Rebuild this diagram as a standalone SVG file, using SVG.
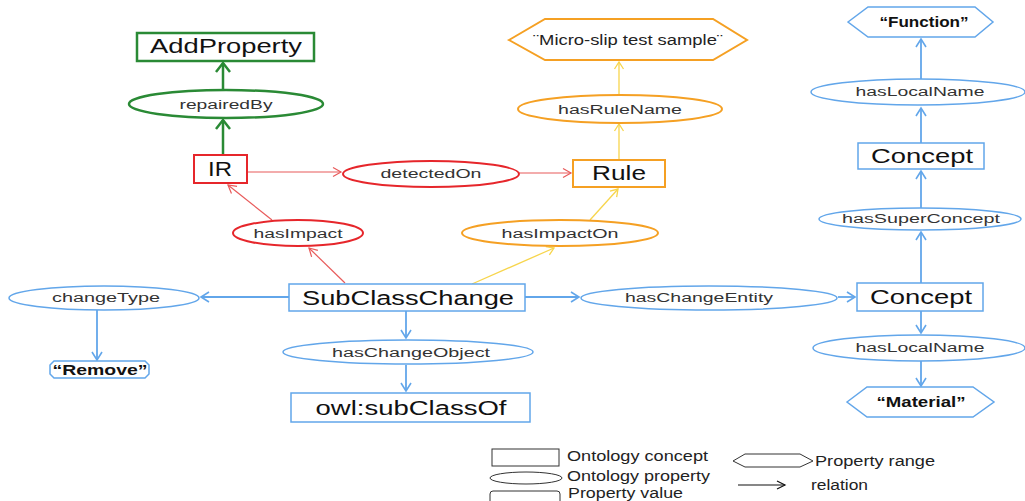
<svg xmlns="http://www.w3.org/2000/svg" width="1025" height="501" viewBox="0 0 1025 501">
<style>
text{font-family:"Liberation Sans",Arial,sans-serif;fill:#111}
.big{font-size:20px}
.sm{font-size:12.5px;fill:#333}
.bold{font-size:14px;font-weight:bold}
.leg{font-size:14px;fill:#222}
.g{stroke:#2a8a35;fill:#fff;stroke-width:2.5}
.r{stroke:#e6262b;fill:#fff;stroke-width:2}
.o{stroke:#f5a023;fill:#fff;stroke-width:2}
.b{stroke:#62a6ea;fill:#fff;stroke-width:1.5}
.k{stroke:#333;fill:#fff;stroke-width:1}
.lg{stroke:#2a8a35;stroke-width:2.5;fill:none}
.lr{stroke:#e85a5a;stroke-width:1.2;fill:none}
.ly{stroke:#f7d54c;stroke-width:1.3;fill:none}
.lb{stroke:#62a6ea;stroke-width:1.8;fill:none}
.lk{stroke:#111;stroke-width:1.2;fill:none}
</style>
<defs>
<marker id="mg" markerUnits="userSpaceOnUse" markerWidth="20" markerHeight="20" viewBox="-12 -10 14 20" refX="0" refY="0" orient="auto"><path d="M-9,-7 L0,0 L-9,7" fill="none" stroke="#2a8a35" stroke-width="2.5"/></marker>
<marker id="mr" markerUnits="userSpaceOnUse" markerWidth="20" markerHeight="20" viewBox="-12 -10 14 20" refX="0" refY="0" orient="auto"><path d="M-8,-4.5 L0,0 L-8,4.5" fill="none" stroke="#e85a5a" stroke-width="1.2"/></marker>
<marker id="my" markerUnits="userSpaceOnUse" markerWidth="20" markerHeight="20" viewBox="-12 -10 14 20" refX="0" refY="0" orient="auto"><path d="M-7,-4.5 L0,0 L-7,4.5" fill="none" stroke="#f7d54c" stroke-width="1.3"/></marker>
<marker id="mb" markerUnits="userSpaceOnUse" markerWidth="20" markerHeight="20" viewBox="-12 -10 14 20" refX="0" refY="0" orient="auto"><path d="M-8,-5 L0,0 L-8,5" fill="none" stroke="#62a6ea" stroke-width="1.6"/></marker>
<marker id="mk" markerUnits="userSpaceOnUse" markerWidth="20" markerHeight="20" viewBox="-12 -10 14 20" refX="0" refY="0" orient="auto"><path d="M-8,-4 L0,0 L-8,4" fill="none" stroke="#111" stroke-width="1.2"/></marker>
</defs>
<rect width="1025" height="501" fill="#fff"/>

<g id="connectors">
<line class="lg" x1="223" y1="90" x2="223" y2="63" marker-end="url(#mg)"/>
<line class="lg" x1="223" y1="155" x2="223" y2="120" marker-end="url(#mg)"/>
<line class="lr" x1="247" y1="172" x2="341" y2="172" marker-end="url(#mr)"/>
<line class="lr" x1="519" y1="173" x2="571" y2="173" marker-end="url(#mr)"/>
<line class="lr" x1="345" y1="283" x2="309" y2="248" marker-end="url(#mr)"/>
<line class="lr" x1="272" y1="220" x2="228" y2="185" marker-end="url(#mr)"/>
<line class="ly" x1="619" y1="159" x2="619" y2="124" marker-end="url(#my)"/>
<line class="ly" x1="619" y1="95" x2="619" y2="62" marker-end="url(#my)"/>
<line class="ly" x1="472" y1="284" x2="554" y2="248" marker-end="url(#my)"/>
<line class="ly" x1="590" y1="220" x2="618" y2="189" marker-end="url(#my)"/>
<line class="lb" x1="289" y1="297" x2="201" y2="297" marker-end="url(#mb)"/>
<line class="lb" x1="97" y1="310" x2="97" y2="360" marker-end="url(#mb)"/>
<line class="lb" x1="406" y1="311" x2="406" y2="338" marker-end="url(#mb)"/>
<line class="lb" x1="406" y1="365" x2="406" y2="391" marker-end="url(#mb)"/>
<line class="lb" x1="525" y1="297" x2="579" y2="297" marker-end="url(#mb)"/>
<line class="lb" x1="838" y1="297" x2="855" y2="297" marker-end="url(#mb)"/>
<line class="lb" x1="921" y1="311" x2="921" y2="333" marker-end="url(#mb)"/>
<line class="lb" x1="921" y1="361" x2="921" y2="386" marker-end="url(#mb)"/>
<line class="lb" x1="921" y1="283" x2="921" y2="232" marker-end="url(#mb)"/>
<line class="lb" x1="921" y1="208" x2="921" y2="171" marker-end="url(#mb)"/>
<line class="lb" x1="921" y1="143" x2="921" y2="108" marker-end="url(#mb)"/>
<line class="lb" x1="921" y1="79" x2="921" y2="39" marker-end="url(#mb)"/>
</g>

<g id="AddProperty"><rect class="g" x="137" y="33" width="177" height="28"/><text class="big" x="226" y="53" text-anchor="middle" textLength="152" lengthAdjust="spacingAndGlyphs">AddProperty</text></g>
<g id="repairedBy"><ellipse class="g" stroke-width="2" cx="226" cy="104" rx="97" ry="14"/><text class="sm" x="226" y="109" text-anchor="middle" textLength="93" lengthAdjust="spacingAndGlyphs">repairedBy</text></g>
<g id="IR"><rect class="r" x="194" y="155" width="53" height="28"/><text class="big" x="220" y="176" text-anchor="middle" textLength="24" lengthAdjust="spacingAndGlyphs">IR</text></g>
<g id="detectedOn"><ellipse class="r" cx="431" cy="174" rx="88" ry="13"/><text class="sm" x="431" y="178" text-anchor="middle" textLength="101" lengthAdjust="spacingAndGlyphs">detectedOn</text></g>
<g id="Rule"><rect class="o" x="573" y="160" width="92" height="27"/><text class="big" x="619" y="180" text-anchor="middle" textLength="54" lengthAdjust="spacingAndGlyphs">Rule</text></g>
<g id="hasRuleName"><ellipse class="o" cx="620" cy="109" rx="102" ry="14"/><text class="sm" x="620" y="114" text-anchor="middle" textLength="124" lengthAdjust="spacingAndGlyphs">hasRuleName</text></g>
<g id="MicroSlip"><polygon class="o" points="509,40 545,19 713,19 747,40 713,60 545,60"/><text class="leg" x="628" y="45" text-anchor="middle" textLength="190" lengthAdjust="spacingAndGlyphs">¨Micro-slip test sample¨</text></g>
<g id="hasImpact"><ellipse class="r" cx="298" cy="233" rx="65" ry="13"/><text class="sm" x="298" y="238" text-anchor="middle" textLength="89" lengthAdjust="spacingAndGlyphs">hasImpact</text></g>
<g id="hasImpactOn"><ellipse class="o" cx="560" cy="233" rx="98" ry="13"/><text class="sm" x="560" y="238" text-anchor="middle" textLength="117" lengthAdjust="spacingAndGlyphs">hasImpactOn</text></g>
<g id="SubClassChange"><rect class="b" x="289" y="284" width="236" height="27"/><text class="big" x="408" y="305" text-anchor="middle" textLength="212" lengthAdjust="spacingAndGlyphs">SubClassChange</text></g>
<g id="changeType"><ellipse class="b" cx="104" cy="298" rx="95" ry="12"/><text class="sm" x="106" y="302" text-anchor="middle" textLength="108" lengthAdjust="spacingAndGlyphs">changeType</text></g>
<g id="Remove"><polygon class="b" points="54,361 145,361 149,365 149,374 145,378 54,378 50,374 50,365"/><text class="bold" x="100" y="375" text-anchor="middle" textLength="95" lengthAdjust="spacingAndGlyphs">“Remove”</text></g>
<g id="hasChangeObject"><ellipse class="b" cx="408" cy="352" rx="125" ry="12"/><text class="sm" x="411" y="357" text-anchor="middle" textLength="158" lengthAdjust="spacingAndGlyphs">hasChangeObject</text></g>
<g id="owlSubClassOf"><rect class="b" x="291" y="393" width="239" height="29"/><text class="big" x="411" y="415" text-anchor="middle" textLength="191" lengthAdjust="spacingAndGlyphs">owl:subClassOf</text></g>
<g id="hasChangeEntity"><ellipse class="b" cx="709" cy="298" rx="128" ry="12"/><text class="sm" x="699" y="302" text-anchor="middle" textLength="148" lengthAdjust="spacingAndGlyphs">hasChangeEntity</text></g>
<g id="ConceptLower"><rect class="b" x="857" y="283" width="126" height="28"/><text class="big" x="921" y="304" text-anchor="middle" textLength="102" lengthAdjust="spacingAndGlyphs">Concept</text></g>
<g id="hasLocalNameLower"><ellipse class="b" cx="919" cy="348" rx="106" ry="13"/><text class="sm" x="920" y="352" text-anchor="middle" textLength="129" lengthAdjust="spacingAndGlyphs">hasLocalName</text></g>
<g id="Material"><polygon class="b" points="847,402 867,387 973,387 994,402 973,417 867,417"/><text class="bold" x="921" y="407" text-anchor="middle" textLength="89" lengthAdjust="spacingAndGlyphs">“Material”</text></g>
<g id="hasSuperConcept"><ellipse class="b" cx="920" cy="219" rx="101" ry="11"/><text class="sm" x="921" y="223" text-anchor="middle" textLength="158" lengthAdjust="spacingAndGlyphs">hasSuperConcept</text></g>
<g id="ConceptUpper"><rect class="b" x="858" y="143" width="126" height="26"/><text class="big" x="922" y="163" text-anchor="middle" textLength="102" lengthAdjust="spacingAndGlyphs">Concept</text></g>
<g id="hasLocalNameUpper"><ellipse class="b" cx="918" cy="92" rx="107" ry="13"/><text class="sm" x="920" y="96" text-anchor="middle" textLength="129" lengthAdjust="spacingAndGlyphs">hasLocalName</text></g>
<g id="Function"><polygon class="b" points="848,22 868,7 975,7 993,22 975,37 868,37"/><text class="bold" x="924" y="27" text-anchor="middle" textLength="89" lengthAdjust="spacingAndGlyphs">“Function”</text></g>

<g id="legend">
<rect class="k" x="492" y="449" width="67" height="17"/>
<text class="leg" x="567" y="461" textLength="141" lengthAdjust="spacingAndGlyphs">Ontology concept</text>
<ellipse class="k" cx="526" cy="478" rx="36" ry="6"/>
<text class="leg" x="567" y="481" textLength="143" lengthAdjust="spacingAndGlyphs">Ontology property</text>
<path class="k" d="M490,503 L490,494 Q490,491 493,491 L557,491 Q560,491 560,494 L560,503"/>
<text class="leg" x="568" y="498" textLength="115" lengthAdjust="spacingAndGlyphs">Property value</text>
<polygon class="k" points="733,461 745,454 800,454 813,461 800,467 745,467"/>
<text class="leg" x="815" y="466" textLength="120" lengthAdjust="spacingAndGlyphs">Property range</text>
<line class="lk" x1="738" y1="485" x2="785" y2="485" marker-end="url(#mk)"/>
<text class="leg" x="811" y="490" textLength="57" lengthAdjust="spacingAndGlyphs">relation</text>
</g>
</svg>
